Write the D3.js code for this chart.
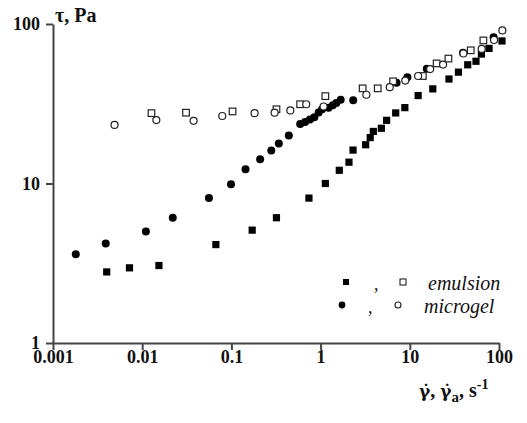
<!DOCTYPE html>
<html>
<head>
<meta charset="utf-8">
<script src="https://cdn.jsdelivr.net/npm/d3@7"></script>
<style>
    body { margin: 0; background: #fff; }
    svg { display: block; }
    svg text { font-family: "Liberation Serif", "Times New Roman", serif; }
    .tick text { font-weight: bold; }
</style>
</head>
<body>
<div id="canva"></div>
<script>
// emulsion, filled squares
const emulsionFilledX = [0.004, 0.0072, 0.0154, 0.067, 0.171, 0.32, 0.74, 1.13, 1.62, 2.08, 2.31, 3.2, 3.6, 3.9, 4.8, 5.5, 6.95, 8.8, 12.4, 18.1, 27.5, 35.1, 44.6, 55.2, 63.5, 77.3, 108];
const emulsionFilledY = [2.79, 2.96, 3.06, 4.14, 5.1, 6.1, 8.1, 10.0, 12.1, 13.6, 16.2, 17.5, 19.4, 21.2, 22.2, 24.9, 27.7, 29.9, 35.6, 39.2, 45.2, 49.9, 55.5, 58.4, 64.8, 70.3, 78.3];

// emulsion, open squares
const emulsionOpenX = [0.0127, 0.031, 0.103, 0.32, 0.59, 1.13, 2.96, 4.37, 6.5, 14.0, 20.0, 27.1, 48.2, 66.8];
const emulsionOpenY = [27.6, 27.8, 28.3, 29.2, 31.4, 35.3, 39.5, 39.5, 43.7, 47.2, 56.6, 60.7, 68.4, 78.9];

// microgel, filled circles
const microgelFilledX = [0.0018, 0.0039, 0.011, 0.022, 0.056, 0.099, 0.144, 0.21, 0.28, 0.34, 0.44, 0.59, 0.67, 0.76, 0.85, 0.95, 1.04, 1.23, 1.37, 1.5, 1.68, 2.32, 7.1, 9.4, 15.5, 39.5, 87];
const microgelFilledY = [3.6, 4.2, 5.0, 6.1, 8.1, 9.9, 12.3, 14.2, 16.1, 17.8, 20.0, 23.6, 24.3, 25.2, 26.0, 27.9, 29.2, 29.8, 30.9, 32.0, 33.5, 33.3, 42.8, 46.3, 52.5, 66.0, 82.6];

// microgel, open circles
const microgelOpenX = [0.0049, 0.0144, 0.0377, 0.079, 0.182, 0.305, 0.458, 0.69, 1.08, 3.26, 5.96, 8.9, 12.4, 16.9, 23.6, 39.9, 64, 88, 109];
const microgelOpenY = [23.3, 25.0, 24.7, 26.5, 27.6, 27.8, 28.7, 31.4, 30.4, 36.0, 40.2, 44.2, 47.2, 52.2, 55.7, 65.3, 69.8, 79.4, 91.2];

const xTicks = [0.001, 0.01, 0.1, 1, 10, 100];
const xTickLabels = ["0.001", "0.01", "0.1", "1", "10", "100"];
const yTicks = [1, 10, 100];
const yTickLabels = ["1", "10", "100"];

const width = 527;
const height = 423;
const margin = { top: 24, right: 28, bottom: 80, left: 53 };

const svg = d3.select("#canva").append("svg")
    .attr("width", width)
    .attr("height", height);

const x = d3.scaleLog()
    .domain([0.001, 100])
    .range([margin.left, width - margin.right]);

const y = d3.scaleLog()
    .domain([1, 100])
    .range([height - margin.bottom, margin.top]);

const pairs = (xs, ys) => xs.map((d, i) => ({ x: d, y: ys[i] }));

function xAxis(g) {
    g.attr("transform", `translate(0, ${height - margin.bottom})`)
        .call(d3.axisBottom(x).tickValues(xTicks).tickFormat((d, i) => xTickLabels[i]).tickSize(7).tickSizeOuter(0).tickPadding(0));
    g.attr("font-size", "18px").attr("font-family", null);
    g.selectAll("line, path").attr("stroke", "#444").attr("stroke-width", 2);
}

function yAxis(g) {
    g.attr("transform", `translate(${margin.left}, 0)`)
        .call(d3.axisLeft(y).tickValues(yTicks).tickFormat((d, i) => yTickLabels[i]).tickSize(7).tickSizeOuter(0).tickPadding(6));
    g.attr("font-size", "18px").attr("font-family", null);
    g.selectAll("line, path").attr("stroke", "#444").attr("stroke-width", 2);
}

svg.append("g").call(xAxis);
svg.append("g").call(yAxis);

svg.selectAll(".tick text").attr("fill", "#111");

// markers
svg.append("g")
    .selectAll("rect")
    .data(pairs(emulsionFilledX, emulsionFilledY))
    .join("rect")
        .attr("x", d => x(d.x) - 3.6)
        .attr("y", d => y(d.y) - 3.6)
        .attr("width", 7.2)
        .attr("height", 7.2)
        .attr("fill", "#000");

svg.append("g")
    .selectAll("circle")
    .data(pairs(microgelFilledX, microgelFilledY))
    .join("circle")
        .attr("cx", d => x(d.x))
        .attr("cy", d => y(d.y))
        .attr("r", 4)
        .attr("fill", "#000");

svg.append("g")
    .selectAll("rect")
    .data(pairs(emulsionOpenX, emulsionOpenY))
    .join("rect")
        .attr("x", d => x(d.x) - 3.3)
        .attr("y", d => y(d.y) - 3.3)
        .attr("width", 6.6)
        .attr("height", 6.6)
        .attr("fill", "#fff")
        .attr("stroke", "#222")
        .attr("stroke-width", 1.2);

svg.append("g")
    .selectAll("circle")
    .data(pairs(microgelOpenX, microgelOpenY))
    .join("circle")
        .attr("cx", d => x(d.x))
        .attr("cy", d => y(d.y))
        .attr("r", 3.5)
        .attr("fill", "#fff")
        .attr("stroke", "#222")
        .attr("stroke-width", 1.2);

// axis titles
svg.append("text")
    .attr("x", 55)
    .attr("y", 22)
    .style("font-weight", "bold")
    .style("font-size", "20px")
    .attr("fill", "#111")
    .text("τ,  Pa");

// DejaVu Serif puts the combining dot right over the gamma
const xLabel = svg.append("text")
    .attr("x", 419)
    .attr("y", 397)
    .style("font-weight", "bold")
    .style("font-size", "20px")
    .attr("fill", "#111");
xLabel.append("tspan").style("font-family", "'DejaVu Serif', serif").style("font-size", "17px").text("γ\u0307");
xLabel.append("tspan").text(", ");
xLabel.append("tspan").style("font-family", "'DejaVu Serif', serif").style("font-size", "17px").text("γ\u0307");
xLabel.append("tspan").attr("dy", 5).style("font-size", "15px").text("a");
xLabel.append("tspan").attr("dy", -5).text(",  s");
xLabel.append("tspan").attr("dy", -8).style("font-size", "14px").text("-1");

// legend
const legend = svg.append("g")
    .attr("fill", "#111");

legend.append("rect").attr("x", 343).attr("y", 279).attr("width", 6).attr("height", 6).attr("fill", "#000");
legend.append("text").attr("x", 374).attr("y", 290).style("font-size", "18px").text(",");
legend.append("rect").attr("x", 400).attr("y", 279).attr("width", 6).attr("height", 6)
    .attr("fill", "#fff").attr("stroke", "#222").attr("stroke-width", 1.1);
legend.append("text").attr("x", 428).attr("y", 290).style("font-size", "20px").style("font-style", "italic").text("emulsion");

legend.append("circle").attr("cx", 342).attr("cy", 305).attr("r", 3.4).attr("fill", "#000");
legend.append("text").attr("x", 368).attr("y", 313).style("font-size", "18px").text(",");
legend.append("circle").attr("cx", 398).attr("cy", 305).attr("r", 3).attr("fill", "#fff")
    .attr("stroke", "#222").attr("stroke-width", 1.1);
legend.append("text").attr("x", 424).attr("y", 313).style("font-size", "20px").style("font-style", "italic").text("microgel");
</script>
</body>
</html>
